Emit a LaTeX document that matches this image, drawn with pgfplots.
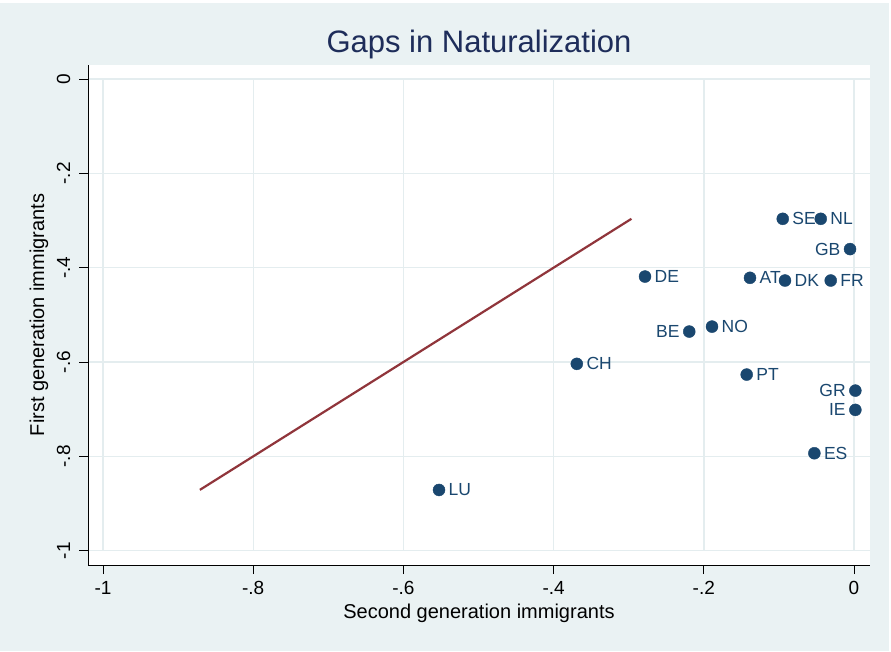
\documentclass[border=0pt]{standalone}
\usepackage{pgfplots}
\pgfplotsset{compat=1.18}
\usepackage{fontspec}
\setmainfont{Liberation Sans}
\definecolor{bgc}{HTML}{EAF2F3}
\definecolor{gridc}{HTML}{E4EDEF}
\definecolor{mk}{HTML}{1A476F}
\definecolor{ln}{HTML}{90353B}
\definecolor{tt}{RGB}{30,45,90}
\begin{document}
\begin{tikzpicture}
\fill[white] (0pt,0pt) rectangle (891pt,651pt);
\fill[bgc] (0pt,0pt) rectangle (889pt,648pt);
\begin{axis}[
  at={(88pt,86pt)}, anchor=south west,
  width=782pt, height=500pt, scale only axis,
  xmin=-1.02, xmax=0.0213, ymin=-1.0303, ymax=0.0297,
  axis x line=bottom, axis y line=left,
  x axis line style={-, line width=0.9pt},
  y axis line style={-, line width=0.9pt},
  axis background/.style={fill=white},
  xtick={-1,-0.8,-0.6,-0.4,-0.2,0},
  xticklabels={-1,-.8,-.6,-.4,-.2,0},
  ytick={-1,-0.8,-0.6,-0.4,-0.2,0},
  yticklabels={-1,-.8,-.6,-.4,-.2,0},
  tick align=outside,
  major tick length=9pt,
  tick style={black, line width=0.8pt},
  ymajorgrids,
  major grid style={gridc, line width=1.4pt},
  ticklabel style={font=\fontsize{19}{22}\selectfont, black},
  xticklabel style={anchor=base, yshift=-20pt},
  yticklabel style={rotate=90, anchor=base, yshift=9pt},
  title={Gaps in Naturalization},
  title style={font=\fontsize{31}{36}\selectfont, text=tt, at={(axis description cs:0.5,1)}, anchor=base, yshift=6pt},
  xlabel={Second generation immigrants},
  xlabel style={font=\fontsize{20}{24}\selectfont, at={(axis description cs:0.5,0)}, anchor=base, yshift=-53pt},
  ylabel={First generation immigrants},
  ylabel style={font=\fontsize{20}{24}\selectfont, at={(axis description cs:0,0.5)}, anchor=center, yshift=49pt},
  clip=false,
]
\foreach \xx in {-1,-0.8,-0.6,-0.4,-0.2,0} {
  \edef\tmp{\noexpand\draw[gridc, line width=1.4pt] (axis cs:\xx,-1) -- (axis cs:\xx,0);}
  \tmp
}
\addplot[ln, line width=2.2pt] coordinates {(-0.871,-0.871) (-0.2964,-0.2964)};
% labels to the right
\addplot[only marks, mark=*, mark size=6pt, mk, mark options={draw=mk, fill=mk},
  point meta=explicit symbolic,
  nodes near coords,
  nodes near coords style={anchor=west, inner sep=0pt, xshift=9.5pt, text=mk, font=\fontsize{17.5}{20}\selectfont},
] table[meta=lab] {
x y lab
-0.0949 -0.2964 SE
-0.0443 -0.2964 NL
-0.2783 -0.4188 DE
-0.1385 -0.4215 AT
-0.0919 -0.4272 DK
-0.0310 -0.4272 FR
-0.1891 -0.5249 NO
-0.3691 -0.6039 CH
-0.1429 -0.6266 PT
-0.0528 -0.7934 ES
-0.5526 -0.8712 LU
};
% labels to the left
\addplot[only marks, mark=*, mark size=6pt, mk, mark options={draw=mk, fill=mk},
  point meta=explicit symbolic,
  nodes near coords,
  nodes near coords style={anchor=east, inner sep=0pt, xshift=-9.5pt, text=mk, font=\fontsize{17.5}{20}\selectfont},
] table[meta=lab] {
x y lab
-0.0053 -0.3606 GB
-0.2194 -0.5354 BE
0.0018 -0.6606 GR
0.0018 -0.7015 IE
};
\end{axis}
\end{tikzpicture}
\end{document}
